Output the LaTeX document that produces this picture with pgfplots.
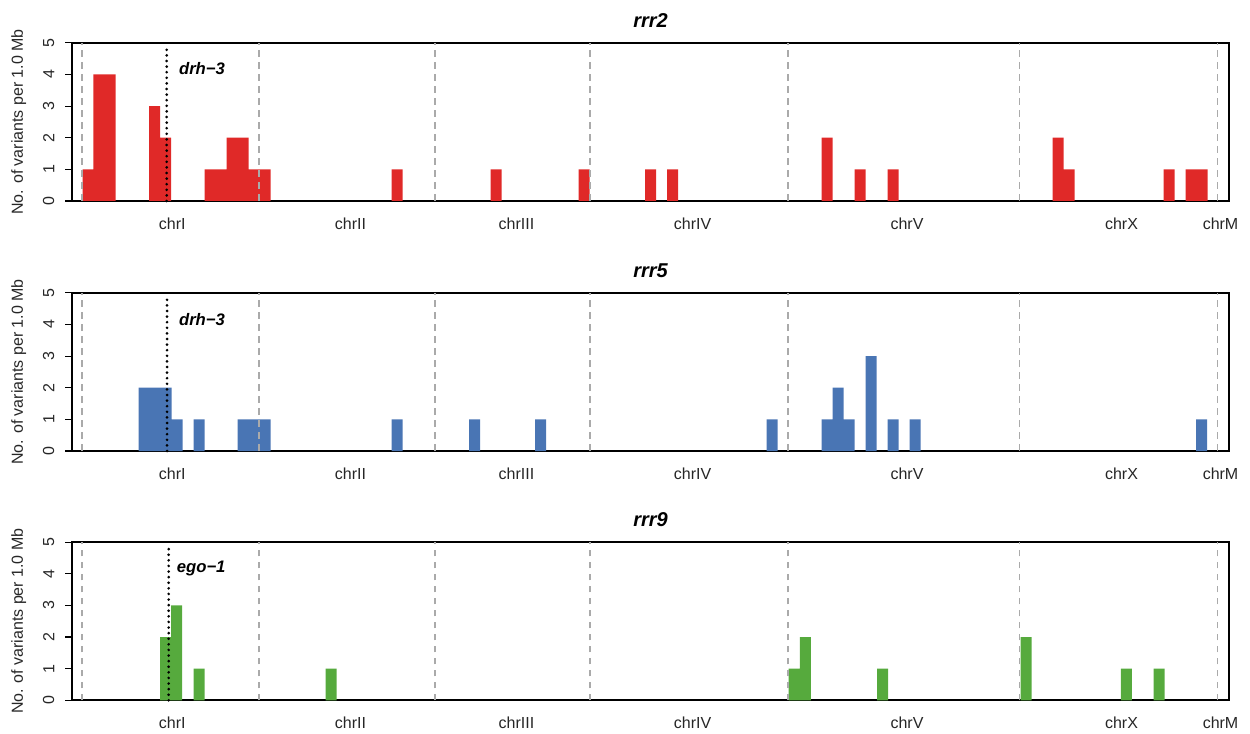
\documentclass[border=0pt]{standalone}
\usepackage{pgfplots}
\pgfplotsset{compat=1.18}
\usepackage{fontspec}
\setmainfont{Liberation Sans}
\definecolor{barred}{RGB}{224,41,40}
\definecolor{barblue}{RGB}{73,117,180}
\definecolor{bargreen}{RGB}{86,170,61}
\definecolor{dashgray}{RGB}{170,170,170}
\pgfplotsset{
  panel/.style={
    scale only axis, width=867.75pt, height=118.7pt,
    anchor=south west,
    xmin=-0.91, xmax=104.27, ymin=0, ymax=5,
    axis line style={line width=1.3pt},
    ytick={0,1,2,3,4,5},
    xtick={8.2,24.4,39.5,55.5,75.0,94.5,103.5},
    xticklabels={chrI,chrII,chrIII,chrIV,chrV,chrX,chrM},
    tick align=outside, ytick pos=left, xtick pos=bottom,
    xtick style={draw=none},
    ytick style={line width=0.8pt, black},
    major tick length=5pt,
    /pgf/number format/assume math mode=true,
    ticklabel style={font=\fontsize{12}{14}\selectfont, text=black!85},
    yticklabel style={rotate=90, anchor=south, inner xsep=1pt, inner ysep=8pt},
    xticklabel style={yshift=-4pt},
    ylabel={No. of variants per 1.0 Mb},
    every axis y label/.style={at={(axis description cs:-0.046,0.5)}, rotate=90, anchor=center, font=\fontsize{12}{14}\selectfont, text=black!85},
    title style={font=\fontsize{15}{17}\bfseries\itshape\selectfont, yshift=2pt},
    ybar, bar width=1, bar shift=0,
    clip=false,
  },
  bnd/.style={dashgray, line width=0.9pt, dash pattern=on 5pt off 4pt},
  gene/.style={black, line width=2.2pt, line cap=round, dash pattern=on 0pt off 4.2pt},
}
\newcommand{\boundaries}{%
  \addplot[bnd, sharp plot] coordinates {(0,0)(0,5)};
  \addplot[bnd, sharp plot] coordinates {(16.09,0)(16.09,5)};
  \addplot[bnd, sharp plot] coordinates {(32.09,0)(32.09,5)};
  \addplot[bnd, sharp plot] coordinates {(46.18,0)(46.18,5)};
  \addplot[bnd, sharp plot] coordinates {(64.18,0)(64.18,5)};
  \addplot[bnd, sharp plot] coordinates {(85.23,0)(85.23,5)};
  \addplot[bnd, sharp plot] coordinates {(103.23,0)(103.23,5)};
}
\begin{document}
\begin{tikzpicture}
\path[use as bounding box] (0,0) rectangle (937.5pt,549.75pt);
% panel 1
\begin{axis}[panel, at={(54pt,399pt)}, title={rrr2}]
\addplot[fill=barred, draw=none] coordinates {
(0.55,1)(1.53,4)(2.55,4)(6.59,3)(7.59,2)(11.64,1)(12.64,1)(13.64,2)(14.64,2)(15.64,1)(16.64,1)
(28.64,1)(37.64,1)(45.64,1)(51.68,1)(53.68,1)(67.73,2)(70.73,1)(73.73,1)(88.73,2)(89.73,1)
(98.82,1)(100.82,1)(101.82,1)};
\boundaries
\addplot[gene, sharp plot] coordinates {(7.7,0)(7.7,4.87)};
\node[anchor=west, inner sep=0pt, font=\fontsize{12.5}{14}\bfseries\itshape\selectfont] at (axis cs:8.8,4.17) {drh−3};
\end{axis}
% panel 2
\begin{axis}[panel, at={(54pt,211.5pt)}, title={rrr5}]
\addplot[fill=barblue, draw=none] coordinates {
(5.64,2)(6.64,2)(7.64,2)(8.64,1)(10.64,1)(14.64,1)(15.64,1)(16.64,1)(28.64,1)(35.68,1)(41.68,1)
(62.73,1)(67.73,1)(68.73,2)(69.73,1)(71.73,3)(73.73,1)(75.73,1)(101.77,1)};
\boundaries
\addplot[gene, sharp plot] coordinates {(7.73,0)(7.73,4.87)};
\node[anchor=west, inner sep=0pt, font=\fontsize{12.5}{14}\bfseries\itshape\selectfont] at (axis cs:8.8,4.15) {drh−3};
\end{axis}
% panel 3
\begin{axis}[panel, at={(54pt,24.5pt)}, title={rrr9}]
\addplot[fill=bargreen, draw=none] coordinates {
(7.61,2)(8.59,3)(10.64,1)(22.64,1)(64.73,1)(65.77,2)(72.79,1)(85.82,2)(94.95,1)(97.91,1)};
\boundaries
\addplot[gene, sharp plot] coordinates {(7.88,0)(7.88,4.85)};
\node[anchor=west, inner sep=0pt, font=\fontsize{12.5}{14}\bfseries\itshape\selectfont] at (axis cs:8.6,4.15) {ego−1};
\end{axis}
\end{tikzpicture}
\end{document}
